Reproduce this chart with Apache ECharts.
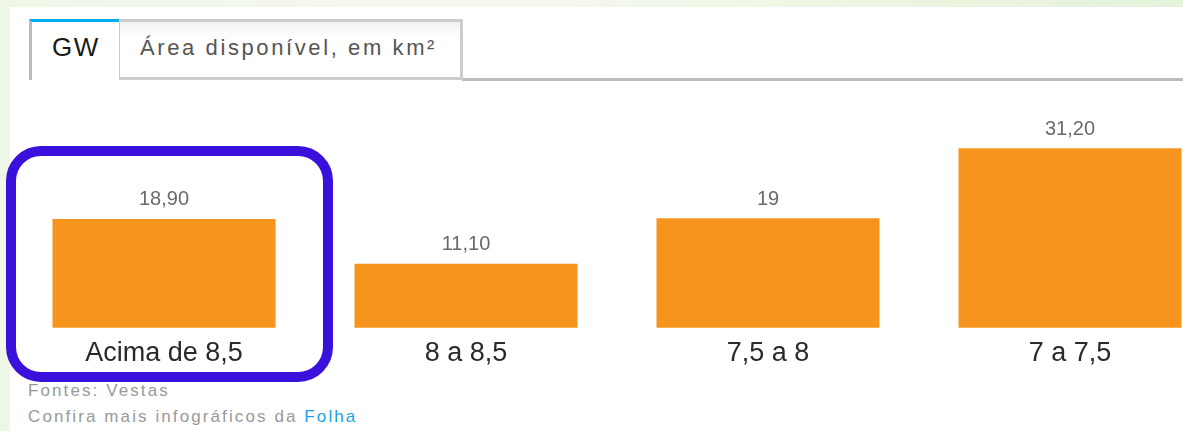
<!DOCTYPE html>
<html>
<head>
<meta charset="UTF-8">
<title>GW por faixa de velocidade</title>
<script src="https://cdn.jsdelivr.net/npm/echarts@6/dist/echarts.min.js"></script>
<style>
    html, body { margin: 0; padding: 0; }
    body {
        width: 1183px; height: 431px; overflow: hidden; position: relative;
        background: linear-gradient(90deg, #eef6e6 0%, #f6f9ee 40%, #eaf5e0 80%, #e4f2dc 100%);
        font-family: "Liberation Sans", Arial, sans-serif;
    }
    #page { position: absolute; left: 10px; top: 7px; right: 0; bottom: 0; background: #fff; }
    .tabline { position: absolute; left: 462px; right: 0; top: 78px; height: 3px; background: #bbb; }
    .tab { position: absolute; top: 19px; height: 61px; box-sizing: border-box; }
    #tab-gw {
        left: 29px; width: 90px;
        border-top: 3px solid #00aeef; border-left: 3px solid #bbb;
        background: #fff;
    }
    #tab-gw span {
        position: absolute; left: 20px; top: 10px;
        font-size: 26px; color: #1a1a1a; letter-spacing: 1.5px;
    }
    #tab-area {
        left: 117px; width: 346px;
        border: 3px solid #ccc;
        background: linear-gradient(#f1f1f1 0px, #f8f8f8 8px, #fff 16px);
    }
    #tab-area span {
        position: absolute; left: 20px; top: 13px;
        font-size: 22px; color: #555; letter-spacing: 2.6px; white-space: nowrap;
    }
    #fonte {
        position: absolute; left: 28px; top: 378px;
        font-size: 17px; line-height: 26px; color: #999; letter-spacing: 2.1px;
    }
    #fonte a { color: #1aa3e8; text-decoration: none; }
    /* o gráfico é mais largo que a janela, como no original (cortado à direita) */
    #mainGW { position: absolute; left: 0; top: 0; width: 1240px; height: 431px; z-index: 2; }
</style>
</head>
<body>
<div id="page"></div>
<div class="tabline"></div>
<div class="tab" id="tab-area"><span>Área disponível, em km²</span></div>
<div class="tab" id="tab-gw"><span>GW</span></div>
<div id="fonte">
    Fontes: Vestas<br/>
    Confira mais infográficos da <a href="#">Folha</a>
</div>
<div id="mainGW"></div>

<script type="text/javascript">
// dados
var categorias = ['Acima de 8,5', '8 a 8,5', '7,5 a 8', '7 a 7,5'];
var valoresGW = [18.9, 11.1, 19, 31.2];
var rotulosGW = ['18,90', '11,10', '19', '31,20'];

var myChart = echarts.init(document.getElementById('mainGW'));

option = {
    backgroundColor: 'transparent',
    animation: false,
    grid: {
        left: 13,
        top: 97.5,
        width: 1208,
        height: 230.2
    },
    xAxis: {
        type: 'category',
        data: categorias,
        axisLine: { show: false },
        axisTick: { show: false },
        axisLabel: {
            margin: 12,
            fontSize: 27,
            color: '#2a2a2a',
            fontFamily: 'Liberation Sans'
        }
    },
    yAxis: {
        type: 'value',
        min: 0,
        max: 40,
        show: false,
        splitLine: { show: false }
    },
    series: [{
        name: 'GW',
        type: 'bar',
        barWidth: 223,
        itemStyle: { color: '#f7941e' },
        label: {
            show: true,
            position: 'top',
            distance: 9,
            fontSize: 20,
            color: '#6a6a6a',
            fontFamily: 'Liberation Sans',
            formatter: function (p) { return rotulosGW[p.dataIndex]; }
        },
        data: valoresGW
    }],
    graphic: [{
        type: 'rect',
        z: 100,
        shape: { x: 11, y: 151, width: 317, height: 226, r: 30 },
        style: { fill: 'none', stroke: '#3a10dc', lineWidth: 10 }
    }]
};
myChart.setOption(option);
</script>
</body>
</html>
